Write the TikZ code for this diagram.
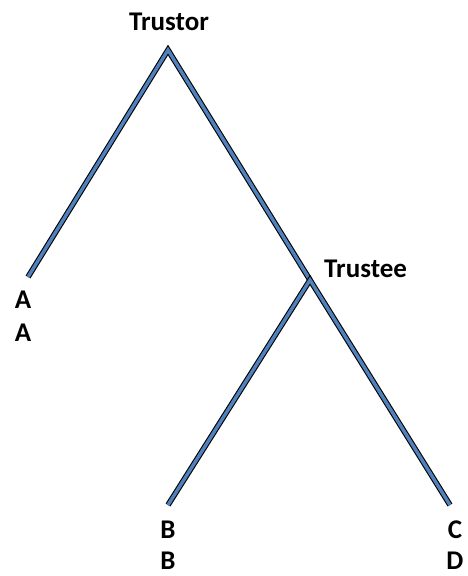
\documentclass[tikz,border=0pt]{standalone}
\usepackage{fontspec}
\setmainfont{Carlito}
\usetikzlibrary{positioning}
\definecolor{branchblue}{RGB}{79,129,189}

\begin{document}
\begin{tikzpicture}[
    x=1pt, y=-1pt,
    every node/.style = {font=\bfseries\fontsize{27}{32}\selectfont, inner sep=0pt},
    branch/.style = {draw=black, line width=1.1pt, double=branchblue, double distance=3.4pt}
]
\useasboundingbox (0,0) rectangle (467,576);

% decision points and ends
\coordinate (root)    at (168, 50);
\coordinate (trustee) at (310, 280);
\coordinate (endA)    at (28, 277);
\coordinate (endB)    at (168, 505);
\coordinate (endCD)   at (450, 505);

% labels
\node (trustorlbl) at (169, 22)  {Trustor};
\node[anchor=west] (trusteelbl) at (324, 269) {Trustee};
\node (a1) at (23, 300)  {A};
\node (a2) at (23, 333)  {A};
\node (b1) at (168, 530) {B};
\node (b2) at (168, 561) {B};
\node (c1) at (455, 530) {C};
\node (d1) at (455, 561) {D};

% branches
\draw[branch] (endA) -- (root) -- (trustee);
\draw[branch] (endB) -- (trustee) -- (endCD);

\end{tikzpicture}
\end{document}
